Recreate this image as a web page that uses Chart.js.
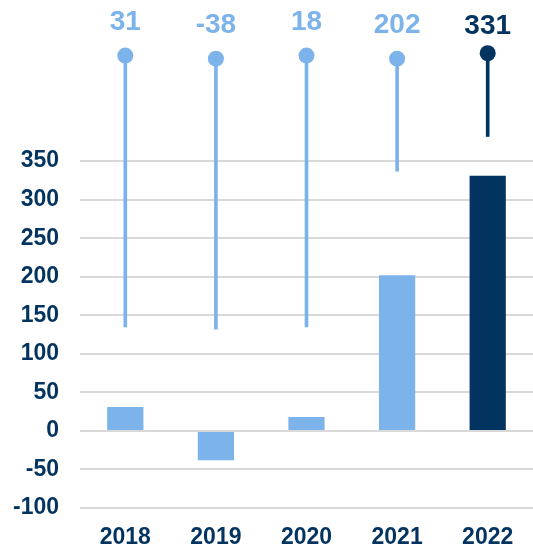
<!DOCTYPE html>
<html>
<head>
<meta charset="utf-8">
<script src="https://cdn.jsdelivr.net/npm/chart.js@4.4.1/dist/chart.umd.min.js"></script>
<style>
    html, body { margin: 0; padding: 0; background: #ffffff; overflow: hidden; }
    #wrap { width: 533px; height: 546px; position: relative; }
    canvas { display: block; }
</style>
</head>
<body>
<div id="wrap"><canvas id="growthChart"></canvas></div>
<script>
// Chart data
const years = ['2018', '2019', '2020', '2021', '2022'];
const values = [31, -38, 18, 202, 331];
// lollipop stems above the bars: [bottom, top] in axis units
const stemLow = [135, 132, 135, 337, 382];
const stemHigh = [487, 483, 487, 483, 490];
const yTicks = [-100, -50, 0, 50, 100, 150, 200, 250, 300, 350];

const LIGHT = '#7db3eb';
const DARK = '#03335f';
const colors = years.map((y, i) => i === years.length - 1 ? DARK : LIGHT);
const FONT = 'Liberation Sans, Arial, sans-serif';

// Draws the value labels over the lollipop heads
const topLabels = {
    id: 'topLabels',
    afterDatasetsDraw(chart) {
        const ctx = chart.ctx;
        const x = chart.scales.x;
        const y = chart.scales.y;
        ctx.save();
        ctx.font = 'bold 28px ' + FONT;
        ctx.textAlign = 'center';
        ctx.textBaseline = 'middle';
        values.forEach((v, i) => {
            ctx.fillStyle = colors[i];
            const px = x.getPixelForValue(i);
            const py = y.getPixelForValue(stemHigh[i]) - (i === years.length - 1 ? 27 : 33);
            ctx.fillText(String(v), px, py);
        });
        ctx.restore();
    }
};

new Chart(document.getElementById('growthChart'), {
    data: {
        labels: years,
        datasets: [
            {
                type: 'line',
                data: stemHigh,
                showLine: false,
                pointRadius: 8,
                pointHoverRadius: 8,
                pointBackgroundColor: colors,
                pointBorderColor: colors,
                pointBorderWidth: 0,
                clip: false,
                order: 0
            },
            {
                type: 'bar',
                data: stemLow.map((lo, i) => [lo, stemHigh[i]]),
                backgroundColor: colors,
                barThickness: 3,
                grouped: false,
                order: 1
            },
            {
                type: 'bar',
                data: values,
                backgroundColor: colors,
                barPercentage: 0.4,
                categoryPercentage: 1,
                grouped: false,
                order: 2
            }
        ]
    },
    options: {
        responsive: true,
        maintainAspectRatio: false,
        animation: false,
        layout: { padding: { top: 7, left: 0, right: 0, bottom: 0 }, autoPadding: false },
        plugins: {
            legend: { display: false },
            tooltip: { enabled: false }
        },
        scales: {
            x: {
                grid: { display: false },
                border: { display: false },
                ticks: {
                    color: DARK,
                    font: { family: FONT, size: 23, weight: 'bold' },
                    padding: 8
                },
                afterFit: s => {
                    s.height = 38;
                    s.paddingLeft = 0;
                    s.paddingRight = 0;
                }
            },
            y: {
                min: -100,
                max: 550,
                afterBuildTicks: s => { s.ticks = yTicks.map(v => ({ value: v })); },
                grid: {
                    color: '#d9d9d9',
                    lineWidth: 2,
                    drawTicks: false
                },
                border: { display: false },
                ticks: {
                    color: DARK,
                    font: { family: FONT, size: 23, weight: 'bold' },
                    padding: 21
                },
                afterFit: s => {
                    s.width = 80;
                    s.paddingTop = 0;
                    s.paddingBottom = 0;
                }
            }
        }
    },
    plugins: [topLabels]
});
</script>
</body>
</html>
